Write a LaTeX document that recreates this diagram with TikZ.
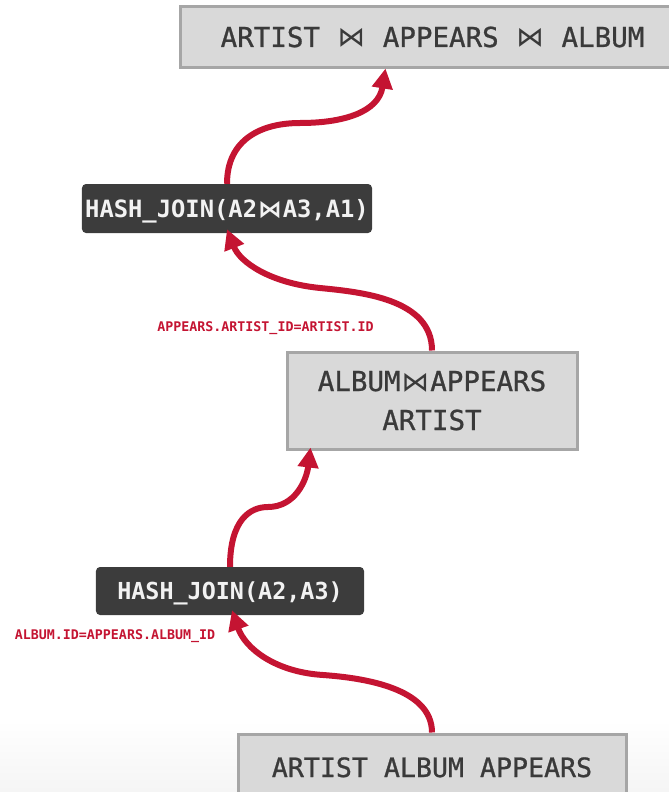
\documentclass[tikz,border=0pt]{standalone}
\usepackage{fontspec}
\newfontfamily\planmono{DejaVu Sans Mono}
\newfontfamily\planrel{DejaVu Sans Mono}[FakeBold=0.9]
\newfontfamily\plansym{DejaVu Sans}
\newcommand\joinsym{\hbox{\kern0.04em{\plansym ⋈}\kern0.04em}}
\usetikzlibrary{arrows.meta,positioning}
\definecolor{relfill}{HTML}{D9D9D9}
\definecolor{reledge}{HTML}{A6A6A6}
\definecolor{reltext}{HTML}{3A3A3A}
\definecolor{opfill}{HTML}{3C3C3C}
\definecolor{optext}{HTML}{F2F2F2}
\definecolor{flow}{HTML}{C41432}
\tikzset{
  relbox/.style={draw=reledge, line width=3bp, fill=relfill, text=reltext,
    inner sep=0pt, align=center, font=\planrel\fontsize{27.5bp}{39bp}\selectfont},
  opbox/.style={fill=opfill, rounded corners=4bp, text=optext, inner sep=0pt,
    font=\planmono\bfseries\fontsize{24bp}{28bp}\selectfont},
  cond/.style={text=flow, inner sep=0pt, font=\planmono\bfseries\fontsize{13.3bp}{15bp}\selectfont},
  dataflow/.style={draw=flow, line width=6bp, -{Triangle[length=20bp,width=20bp]}}
}
\begin{document}
\begin{tikzpicture}[x=1bp,y=-1bp]
\useasboundingbox (0,0) rectangle (669,792);
\clip (0,0) rectangle (669,792);
% faint grey floor at the foot of the page
\shade[top color=white, bottom color=black!4, draw=none] (0,720) rectangle (669,792);

% relations
\node[relbox, minimum width=503bp, minimum height=60bp, text height=20bp, text depth=0pt]
  (top) at (432.5,37) {ARTIST \joinsym{} APPEARS \joinsym{} ALBUM};
\node[relbox, minimum width=290bp, minimum height=97bp]
  (mid) at (432,400.5) {ALBUM\joinsym{}APPEARS\\ARTIST};
\node[relbox, minimum width=388bp, minimum height=66bp, text height=20bp, text depth=0pt,
  font=\planrel\fontsize{26.6bp}{30bp}\selectfont]
  (bot) at (432,767) {ARTIST ALBUM APPEARS};

% join operators
\node[opbox, minimum width=290bp, minimum height=49bp, text height=17bp, text depth=0pt,
  font=\planmono\bfseries\fontsize{23.8bp}{28bp}\selectfont]
  (hjtop) at (227,208.5) {HASH\_JOIN(A2\joinsym{}A3,A1)};
\node[opbox, minimum width=268bp, minimum height=48bp, text height=17bp, text depth=0pt,
  font=\planmono\bfseries\fontsize{23.4bp}{28bp}\selectfont]
  (hjlow) at (230,591) {HASH\_JOIN(A2,A3)};

% join predicates
\node[cond] (predtop) at (265.5,328) {APPEARS.ARTIST\_ID=ARTIST.ID};
\node[cond] (predlow) at (115,636) {ALBUM.ID=APPEARS.ALBUM\_ID};

% tuple flow
\coordinate (t1) at ([xshift=2bp,yshift=5bp]hjlow.south);
\draw[dataflow] (bot.north) .. controls +(0,-44) and +(42,3) .. (323,675)
  .. controls +(-48,-3) and +(13,38) .. (t1);
\coordinate (t2) at ([xshift=25bp,yshift=3bp]mid.south west);
\draw[dataflow] (hjlow.north) .. controls +(0,-47) and +(-18,0) .. (268,507)
  .. controls +(27,0) and +(-4,33) .. (t2);
\coordinate (t3) at ([yshift=4bp]hjtop.south);
\draw[dataflow] (mid.north) .. controls +(0,-52) and +(40,4) .. (320,288)
  .. controls +(-50,-5) and +(13,33) .. (t3);
\coordinate (t4) at ([xshift=206bp]top.south west);
\draw[dataflow] (hjtop.north) .. controls +(0,-45) and +(-38,0) .. (300,123)
  .. controls +(45,0) and +(-7,43) .. (t4);
\end{tikzpicture}
\end{document}
